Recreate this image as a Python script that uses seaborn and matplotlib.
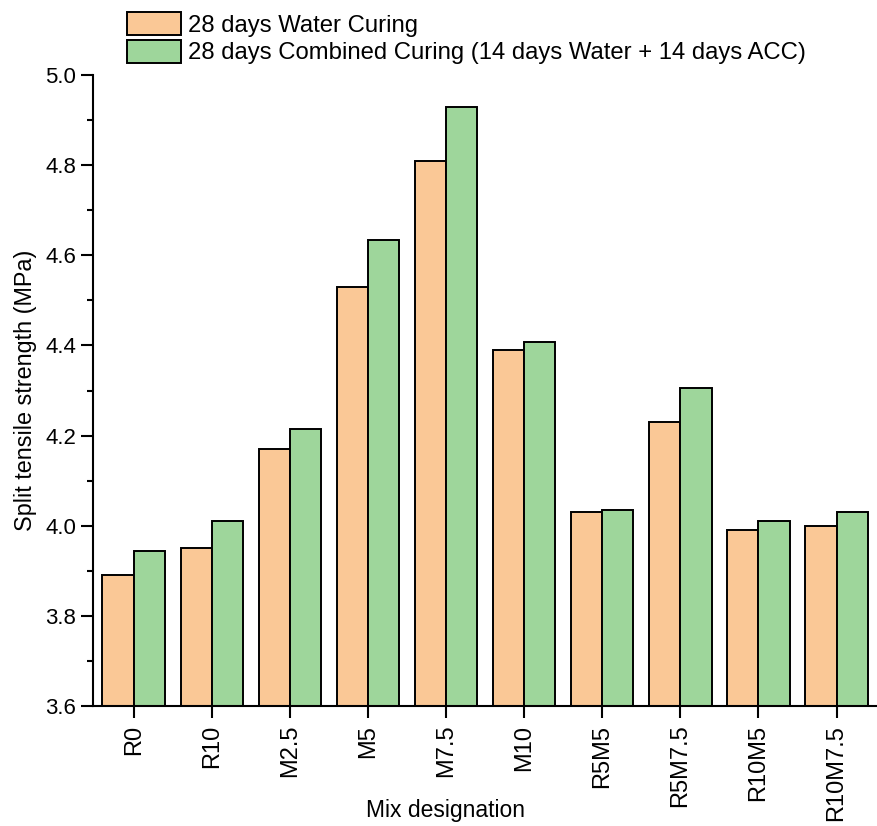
import matplotlib
matplotlib.use("Agg")
import matplotlib.pyplot as plt
from matplotlib.patches import Patch
from matplotlib.ticker import MultipleLocator, FormatStrFormatter
import pandas as pd
import seaborn as sns

mixes = ["R0", "R10", "M2.5", "M5", "M7.5", "M10", "R5M5", "R5M7.5", "R10M5", "R10M7.5"]
water_28d = [3.89, 3.95, 4.17, 4.53, 4.81, 4.39, 4.03, 4.23, 3.99, 4.00]
combined_28d = [3.945, 4.01, 4.215, 4.635, 4.93, 4.407, 4.035, 4.305, 4.01, 4.03]
series_names = ["28 days Water Curing",
                "28 days Combined Curing (14 days Water + 14 days ACC)"]
colors = ["#FAC896", "#9ED69B"]

df = pd.DataFrame({
    "Mix": mixes * 2,
    "Strength": water_28d + combined_28d,
    "Curing": [series_names[0]] * len(mixes) + [series_names[1]] * len(mixes),
})

sns.set_style("ticks")
plt.rcParams["font.family"] = ["Liberation Sans", "DejaVu Sans"]
plt.rcParams["text.color"] = "black"
plt.rcParams["axes.labelcolor"] = "black"
plt.rcParams["xtick.color"] = "black"
plt.rcParams["ytick.color"] = "black"

fig = plt.figure(figsize=(8.78, 8.26), dpi=100)
ax = fig.add_axes([0.106, 0.1453, 0.893, 0.7638])

sns.barplot(data=df, x="Mix", y="Strength", hue="Curing", order=mixes,
            hue_order=series_names, palette=colors, saturation=1,
            width=0.8, gap=0, edgecolor="black", linewidth=1.4,
            errorbar=None, ax=ax, legend=False)

ax.set_ylim(3.6, 5.0)
ax.set_xlim(-0.52, 9.52)
ax.yaxis.set_major_locator(MultipleLocator(0.2))
ax.yaxis.set_minor_locator(MultipleLocator(0.1))
ax.yaxis.set_major_formatter(FormatStrFormatter("%.1f"))

for side in ["top", "right"]:
    ax.spines[side].set_visible(False)
for side in ["left", "bottom"]:
    ax.spines[side].set_linewidth(1.5)
    ax.spines[side].set_color("black")

ax.tick_params(axis="both", which="major", direction="out", length=8.5,
               width=1.5, colors="black")
ax.tick_params(axis="y", which="major", labelsize=16)
ax.tick_params(axis="x", which="major", labelsize=17, rotation=90, pad=5)
ax.tick_params(axis="y", which="minor", direction="out", length=4, width=1.5)

ax.set_xlabel("Mix designation", fontsize=16.5, color="black")
ax.xaxis.set_label_coords(0.449, -0.147)
ax.set_ylabel("Split tensile strength (MPa)", fontsize=16.8, labelpad=6,
              color="black")

handles = [Patch(facecolor=c, edgecolor="black", linewidth=1.4) for c in colors]
leg = fig.legend(handles, series_names, loc="upper left",
                 bbox_to_anchor=(127 / 878, 1 - 12 / 826), frameon=False,
                 fontsize=17.2, handlelength=2.26, handleheight=1.11,
                 handletextpad=0.3, labelspacing=0.12, borderaxespad=0,
                 borderpad=0, labelcolor="black")

fig.savefig("out.png", dpi=100)
